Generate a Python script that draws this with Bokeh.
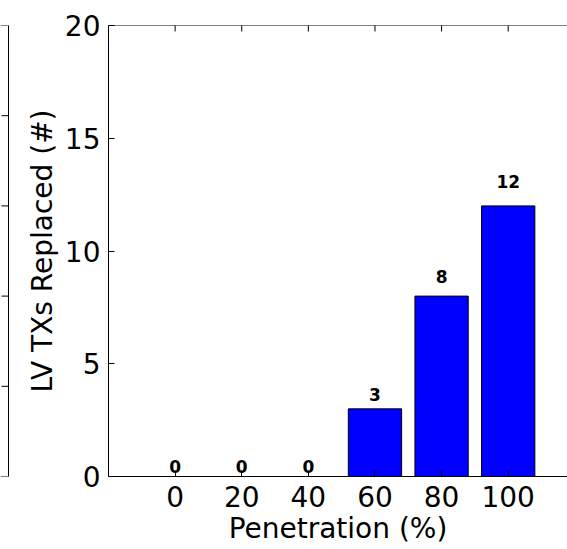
import math
from bokeh.plotting import figure
from bokeh.models import ColumnDataSource, Range1d, FixedTicker, Span
from bokeh.layouts import row
from bokeh.embed import file_html
from bokeh.resources import INLINE
from bokeh.core.properties import value

# ---- data ----
penetration = [0, 20, 40, 60, 80, 100]
replaced = [0, 0, 0, 3, 8, 12]
x_ticks = [0, 20, 40, 60, 80, 100]
y_ticks = [0, 5, 10, 15, 20]
x_label = "Penetration (%)"
y_label = "LV TXs Replaced (#)"
frag_ticks = [0.2, 0.4, 0.6, 0.8]   # ticks of the neighbouring (cut-off) panel

FONT = "DejaVu Sans"
Y_MIN, Y_MAX = y_ticks[0], y_ticks[-1]

src = ColumnDataSource(dict(
    x=penetration,
    top=replaced,
    label=[str(v) for v in replaced],
    ly=[1.05 * v for v in replaced],
))

# ---- fragment of the neighbouring subplot (its right spine) ----
frag = figure(width=9, height=549, output_backend="svg", toolbar_location=None,
              x_axis_location=None, y_axis_location=None,
              x_range=Range1d(0, 9), y_range=Range1d(0, 1),
              min_border_left=0, min_border_right=0,
              min_border_top=25, min_border_bottom=73)
frag.outline_line_color = None
frag.grid.visible = False
frag.background_fill_color = "white"
frag.border_fill_color = "white"
frag.add_layout(Span(location=8, dimension="height", line_color="black", line_width=1))
frag.add_layout(Span(location=1, dimension="width", line_color="black", line_width=1))
frag.add_layout(Span(location=0, dimension="width", line_color="black", line_width=1))
frag.scatter(x=[8] * len(frag_ticks), y=frag_ticks, marker="dash", size=14,
             line_color="black", line_width=1)

# ---- main panel ----
p = figure(width=558, height=549, output_backend="svg", toolbar_location=None,
           x_range=Range1d(-20, 117.8), y_range=Range1d(Y_MIN, Y_MAX),
           min_border_left=99, min_border_right=0,
           min_border_top=25, min_border_bottom=73)
p.outline_line_color = None
p.grid.visible = False
p.background_fill_color = "white"
p.border_fill_color = "white"

p.vbar(x="x", top="top", bottom=0, width=16, source=src,
       fill_color="#0000ff", line_color="black", line_width=1)

p.text(x="x", y="ly", text="label", source=src,
       text_font=value(FONT), text_font_style="bold", text_font_size="17px",
       text_align="center", text_baseline="bottom", text_color="black",
       y_offset=-4)

# top spine with inward ticks
p.add_layout(Span(location=Y_MAX, dimension="width", line_color="black", line_width=1))
p.scatter(x=x_ticks, y=[Y_MAX] * len(x_ticks), marker="dash", angle=math.pi / 2,
          size=12, line_color="black", line_width=1)

xa = p.below[0]
ya = p.left[0]
xa.ticker = FixedTicker(ticks=x_ticks)
ya.ticker = FixedTicker(ticks=y_ticks)

for ax in (xa, ya):
    ax.major_tick_in = 6
    ax.major_tick_out = 0
    ax.minor_tick_in = 0
    ax.minor_tick_out = 0
    ax.axis_line_color = "black"
    ax.axis_line_width = 1
    ax.major_tick_line_color = "black"
    ax.major_label_text_font = FONT
    ax.major_label_text_font_size = "28px"
    ax.major_label_text_color = "black"
    ax.axis_label_text_font = FONT
    ax.axis_label_text_font_size = "28px"
    ax.axis_label_text_font_style = "normal"
    ax.axis_label_text_color = "black"

xa.axis_label = x_label
xa.major_label_standoff = 9
xa.axis_label_standoff = 2

ya.axis_label = y_label
ya.major_label_standoff = 8
ya.axis_label_standoff = 3

layout = row(frag, p, spacing=0)

open("out.html", "w").write(file_html(layout, INLINE))
